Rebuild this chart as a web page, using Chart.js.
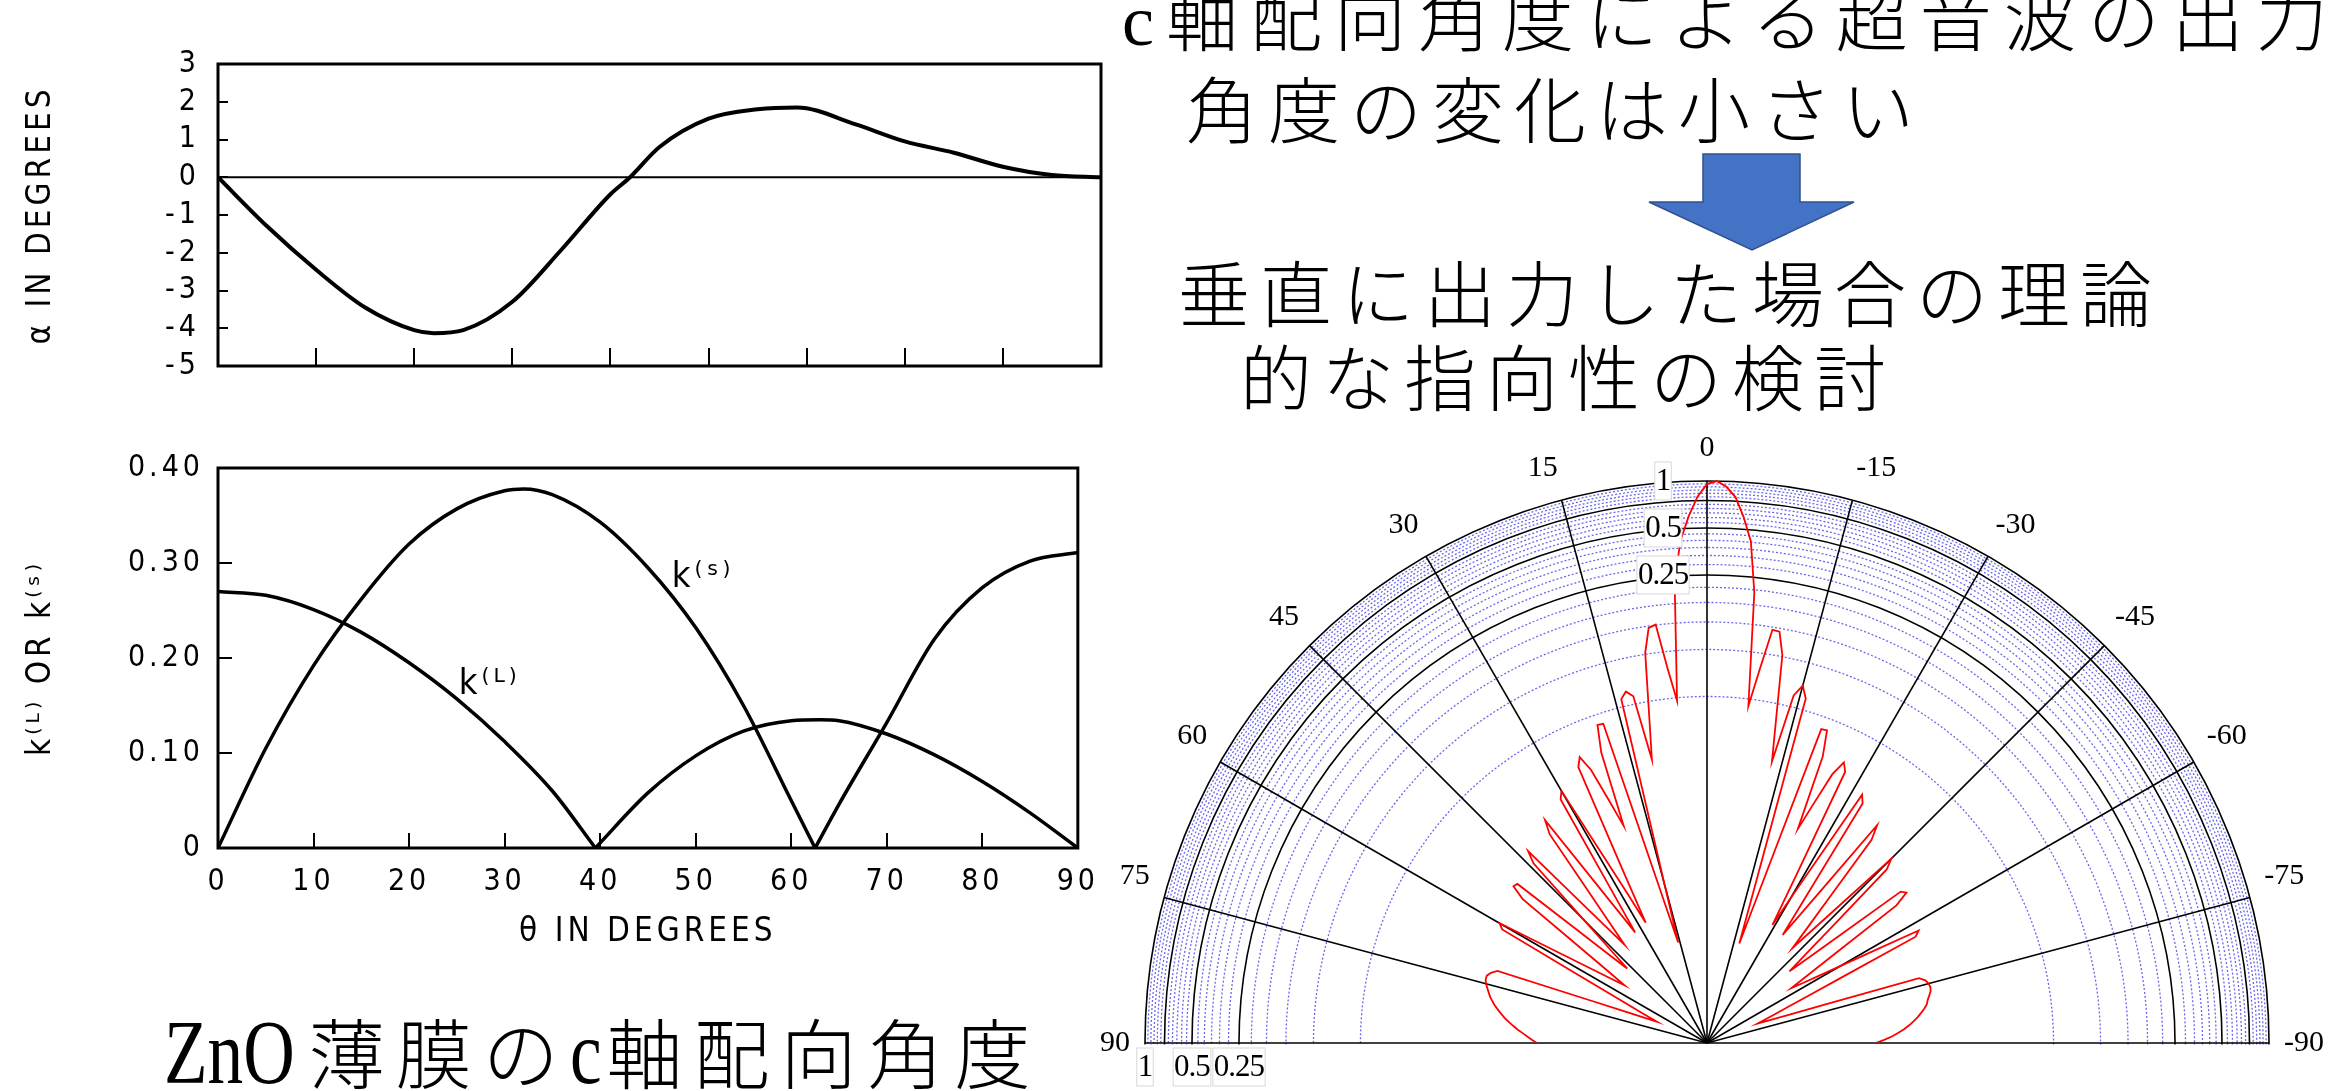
<!DOCTYPE html>
<html lang="ja">
<head>
<meta charset="utf-8">
<title>ZnO c軸配向角度</title>
<script src="https://cdn.jsdelivr.net/npm/chart.js@4.4.1/dist/chart.umd.min.js"></script>
<style>
html, body { margin: 0; padding: 0; background: #fff; }
body { width: 2344px; height: 1091px; overflow: hidden; position: relative; }
.box { position: absolute; }
.jp { position: absolute; font-family: 'Liberation Serif', 'Noto Sans CJK JP', serif; font-weight: 300; color: #000; white-space: nowrap; line-height: 1; }
.lat { display: inline-block; font-size: 92px; letter-spacing: 0; transform: scaleX(0.775); transform-origin: left bottom; }
</style>
</head>
<body>
<div class="box" style="left:0;top:0;width:1130px;height:420px"><canvas id="alphaChart"></canvas></div>
<div class="box" style="left:0;top:420px;width:1130px;height:534px"><canvas id="kChart"></canvas></div>
<div class="box" style="left:1095px;top:426px;width:1234px;height:1234px"><canvas id="polarChart"></canvas></div>

<div class="jp" style="left:1122px;top:-15px;font-size:72px;letter-spacing:12px">c軸配向角度による超音波の出力</div>
<div class="jp" style="left:1186px;top:77px;font-size:72px;letter-spacing:10px">角度の変化は小さい</div>
<svg class="box" style="left:0;top:0" width="2344" height="300">
  <polygon points="1703,154 1800,154 1800,202 1854,202 1752,250 1649,202 1703,202" fill="#4472C4" stroke="#2F528F" stroke-width="1.5"/>
</svg>
<div class="jp" style="left:1178px;top:261px;font-size:72px;letter-spacing:10px">垂直に出力した場合の理論</div>
<div class="jp" style="left:1240px;top:345px;font-size:72px;letter-spacing:10px">的な指向性の検討</div>
<div class="jp" style="left:164px;top:1002px;font-size:76px;line-height:100px;letter-spacing:11px"><span class="lat" style="margin-right:-24px">ZnO</span>薄膜の<span class="lat" style="margin-right:-4px">c</span>軸配向角度</div>

<script>
// ---- top: alpha vs theta ----
const thetaAlpha = [0, 5, 10, 15, 20, 22, 25, 30, 35, 40, 42, 45, 50, 55, 59, 65, 70, 75, 80, 85, 90];
const alphaDeg = [0, -1.3, -2.45, -3.45, -4.05, -4.13, -4.05, -3.3, -1.92, -0.45, 0, 0.8, 1.55, 1.8, 1.85, 1.4, 0.95, 0.65, 0.28, 0.06, 0];
const alphaZero = [{ x: 0, y: 0 }, { x: 90, y: 0 }];

// ---- bottom: coupling factors, each arch between zeros ----
const thetaKL1 = [0, 5, 10, 15, 20, 25, 30, 35, 39.5];
const kL1 = [0.270, 0.266, 0.251, 0.227, 0.195, 0.157, 0.112, 0.060, 0];
const thetaKL2 = [39.5, 45, 50, 55, 60, 63, 65, 70, 75, 80, 85, 90];
const kL2 = [0, 0.058, 0.097, 0.123, 0.134, 0.135, 0.134, 0.120, 0.098, 0.070, 0.037, 0];
const thetaKS1 = [0, 5, 10, 15, 20, 25, 30, 32, 35, 40, 45, 50, 55, 60, 62.5];
const kS1 = [0, 0.105, 0.192, 0.262, 0.320, 0.357, 0.376, 0.378, 0.372, 0.343, 0.295, 0.232, 0.150, 0.050, 0];
const thetaKS2 = [62.5, 65, 70, 75, 80, 85, 90];
const kS2 = [0, 0.046, 0.132, 0.220, 0.274, 0.302, 0.311];
const kLabels = [
  { text: 'k⁽ˢ⁾', x: 47.5, y: 0.285 },
  { text: 'k⁽ᴸ⁾', x: 25.2, y: 0.172 }
];

// ---- right: theoretical directivity (dB), 1 degree steps ----
// rightLevelsDb: 0, -1, ... -90 deg ; leftLevelsDb: +1, +2, ... +90 deg
const rightLevelsDb = [
  -0.4, 0, -0.7, -2.0, -4.5, -7.5, -14.0, -28.5, -23.8, -18.4,
  -18.5, -21.4, -29.3, -35.0, -26.1, -24.6, -26.1, -51.2, -58.6, -51.4,
  -29.2, -29.1, -32.4, -42.2, -38.5, -34.0, -32.0, -33.0, -47.6, -54.7,
  -50.5, -44.6, -34.5, -35.4, -48.9, -55.1, -51.5, -46.1, -36.6, -38.5,
  -47.2, -52.2, -55.6, -52.2, -47.2, -38.6, -40.0, -49.6, -54.8, -58.0,
  -54.9, -49.8, -40.5, -40.0, -42.0, -51.3, -56.2, -59.1, -57.5, -55.3,
  -52.3, -48.0, -41.3, -42.0, -52.6, -57.6, -60.6, -62.5, -63.9, -65.0,
  -63.3, -60.7, -55.8, -43.6, -42.9, -42.6, -42.5, -42.6, -42.9, -43.2,
  -43.4, -43.8, -44.3, -44.8, -45.4, -46.0, -46.7, -47.5, -48.3, -49.3,
  -50.4
];
const leftLevelsDb = [
  -2.0, -4.5, -7.5, -12.5, -28.0, -23.8, -18.0, -18.3, -21.4, -29.3,
  -35.0, -26.6, -25.8, -26.6, -51.2, -58.6, -51.4, -29.0, -28.9, -32.4,
  -42.2, -38.5, -34.0, -31.9, -33.0, -47.6, -54.7, -50.5, -44.6, -34.7,
  -35.6, -48.9, -55.1, -51.5, -46.1, -36.7, -38.5, -47.2, -52.2, -55.6,
  -52.2, -47.2, -38.4, -40.0, -49.6, -54.8, -58.0, -54.9, -49.8, -40.3,
  -40.1, -42.0, -51.3, -56.2, -59.1, -57.5, -55.3, -52.3, -48.0, -41.3,
  -42.0, -52.6, -57.6, -60.6, -62.5, -63.9, -65.0, -63.3, -60.7, -55.8,
  -43.6, -42.9, -42.5, -42.5, -42.7, -43.0, -43.3, -43.6, -44.0, -44.4,
  -44.9, -45.4, -45.9, -46.5, -47.1, -47.7, -48.4, -49.0, -49.6, -50.2
];
const angleTickLabels = [90, 75, 60, 45, 30, 15, 0, -15, -30, -45, -60, -75, -90];
const majorRings = [1, 0.75, 0.5, 0.25];
const labelledRings = [1, 0.5, 0.25];
const ringCount = 24;
const dbMin = -72;

Chart.defaults.font.family = "'DejaVu Sans Condensed', 'DejaVu Sans', sans-serif";
Chart.defaults.color = '#000';

// wide-set lettering of the scanned figure
const spacingPlugin = {
  id: 'spacing',
  beforeLayout(chart) { chart.ctx.letterSpacing = '4px'; },
  beforeDraw(chart) { chart.ctx.letterSpacing = '4px'; }
};

const framePlugin = {
  id: 'frame',
  afterDatasetsDraw(chart) {
    const { left, top, right, bottom } = chart.chartArea;
    const ctx = chart.ctx;
    ctx.save();
    ctx.strokeStyle = '#000';
    ctx.lineWidth = 3;
    ctx.strokeRect(left, top, right - left, bottom - top);
    ctx.restore();
  }
};

function toPoints(xs, ys) {
  return xs.map((x, i) => ({ x: x, y: ys[i] }));
}

function curve(points, width) {
  return {
    data: points,
    borderColor: '#000',
    borderWidth: width,
    pointRadius: 0,
    cubicInterpolationMode: 'monotone',
    fill: false
  };
}

// top chart
new Chart(document.getElementById('alphaChart'), {
  type: 'line',
  data: {
    datasets: [
      curve(toPoints(thetaAlpha, alphaDeg), 4),
      curve(alphaZero, 2)
    ]
  },
  options: {
    animation: false,
    responsive: true,
    maintainAspectRatio: false,
    layout: { padding: { top: 64, right: 29, left: 0, bottom: 0 } },
    plugins: { legend: { display: false }, tooltip: { enabled: false } },
    scales: {
      x: {
        type: 'linear', min: 0, max: 90,
        ticks: { stepSize: 10, display: false, autoSkip: false },
        grid: { drawOnChartArea: false, tickLength: -18, color: '#000', lineWidth: 2 },
        border: { display: false },
        afterFit: (axis) => { axis.height = 54; }
      },
      y: {
        min: -5, max: 3,
        ticks: { stepSize: 1, padding: 28, autoSkip: false, font: { size: 30 } },
        grid: { drawOnChartArea: false, tickLength: -10, color: '#000', lineWidth: 2 },
        border: { display: false },
        title: { display: true, text: 'α IN DEGREES', font: { size: 33 }, padding: { top: 22, bottom: 0 } },
        afterFit: (axis) => { axis.width = 218; }
      }
    }
  },
  plugins: [spacingPlugin, framePlugin]
});

// bottom chart
const kLabelPlugin = {
  id: 'kLabels',
  afterDatasetsDraw(chart) {
    const ctx = chart.ctx;
    const xs = chart.scales.x, ys = chart.scales.y;
    ctx.save();
    ctx.font = "36px 'DejaVu Sans Condensed'";
    ctx.fillStyle = '#000';
    ctx.textBaseline = 'middle';
    kLabels.forEach(l => ctx.fillText(l.text, xs.getPixelForValue(l.x), ys.getPixelForValue(l.y)));
    ctx.restore();
  }
};

new Chart(document.getElementById('kChart'), {
  type: 'line',
  data: {
    datasets: [
      curve(toPoints(thetaKL1, kL1), 3.5),
      curve(toPoints(thetaKL2, kL2), 3.5),
      curve(toPoints(thetaKS1, kS1), 3.5),
      curve(toPoints(thetaKS2, kS2), 3.5)
    ]
  },
  options: {
    animation: false,
    responsive: true,
    maintainAspectRatio: false,
    layout: { padding: { top: 48, right: 30, left: 0, bottom: 0 } },
    plugins: { legend: { display: false }, tooltip: { enabled: false } },
    scales: {
      x: {
        type: 'linear', min: 0, max: 90,
        ticks: { stepSize: 10, padding: 31, autoSkip: false, font: { size: 30 } },
        grid: { drawOnChartArea: false, tickLength: -15, color: '#000', lineWidth: 2 },
        border: { display: false },
        title: { display: true, text: 'θ IN DEGREES', font: { size: 33 }, padding: { top: 4, bottom: 2 } },
        afterFit: (axis) => { axis.height = 106; }
      },
      y: {
        min: 0, max: 0.4,
        ticks: { stepSize: 0.1, padding: 28, autoSkip: false, font: { size: 30 }, callback: (v) => v === 0 ? '0' : v.toFixed(2) },
        grid: { drawOnChartArea: false, tickLength: -14, color: '#000', lineWidth: 2 },
        border: { display: false },
        title: { display: true, text: 'k⁽ᴸ⁾ OR k⁽ˢ⁾', font: { size: 33 }, padding: { top: 22, bottom: 0 } },
        afterFit: (axis) => { axis.width = 218; }
      }
    }
  },
  plugins: [spacingPlugin, framePlugin, kLabelPlugin]
});

// polar (radar) chart, label index = degrees clockwise from the top
const nAngles = 360;
const angleCategories = Array.from({ length: nAngles }, (_, i) => (i <= 180 ? -i : nAngles - i));
const polarData = new Array(nAngles).fill(null);
rightLevelsDb.forEach((v, i) => { polarData[i] = v; });
leftLevelsDb.forEach((v, i) => { polarData[nAngles - 1 - i] = v; });

const ringAmps = Array.from({ length: ringCount }, (_, k) => (k + 1) / ringCount);
const toDb = (a) => 20 * Math.log10(a);
const isMajor = (db) => majorRings.some(a => Math.abs(toDb(a) - db) < 1e-6);

function drawBoxLabel(ctx, text, x, y) {
  const w = ctx.measureText(text).width;
  ctx.fillStyle = '#fff';
  ctx.fillRect(x - w / 2 - 1, y - 19, w + 2, 38);
  ctx.strokeStyle = '#d8d8d8';
  ctx.lineWidth = 1;
  ctx.strokeRect(x - w / 2 - 1, y - 19, w + 2, 38);
  ctx.fillStyle = '#000';
  ctx.fillText(text, x, y + 1);
}

const halfPlanePlugin = {
  id: 'halfPlane',
  beforeDraw(chart) {
    const s = chart.scales.r;
    const ctx = chart.ctx;
    ctx.save();
    ctx.beginPath();
    ctx.rect(0, 0, chart.width, s.yCenter + 1.5);
    ctx.rect(0, 0, s.xCenter - s.drawingArea - 3, chart.height);
    ctx.rect(s.xCenter + s.drawingArea + 3, 0, chart.width, chart.height);
    ctx.clip();
  },
  beforeDatasetsDraw(chart) {
    const s = chart.scales.r;
    const ctx = chart.ctx;
    ctx.restore();
    ctx.save();
    ctx.beginPath();
    ctx.rect(0, 0, chart.width, s.yCenter - 0.5);
    ctx.clip();
  },
  afterDatasetsDraw(chart) {
    chart.ctx.restore();
  },
  afterDraw(chart) {
    const s = chart.scales.r;
    const ctx = chart.ctx;
    ctx.save();
    ctx.font = "31px 'Liberation Serif'";
    ctx.letterSpacing = '-1px';
    ctx.textAlign = 'center';
    ctx.textBaseline = 'middle';
    labelledRings.forEach(a => {
      const d = s.getDistanceFromCenterForValue(toDb(a));
      drawBoxLabel(ctx, String(a), s.xCenter - 44, s.yCenter - d);
      drawBoxLabel(ctx, String(a), s.xCenter - d, s.yCenter + 24);
    });
    ctx.restore();
  }
};

new Chart(document.getElementById('polarChart'), {
  type: 'radar',
  data: {
    labels: angleCategories,
    datasets: [{
      data: polarData,
      borderColor: '#ff0000',
      borderWidth: 1.8,
      pointRadius: 0,
      pointHitRadius: 0,
      fill: false,
      spanGaps: false,
      tension: 0
    }]
  },
  options: {
    animation: false,
    responsive: true,
    maintainAspectRatio: false,
    plugins: { legend: { display: false }, tooltip: { enabled: false } },
    scales: {
      r: {
        min: dbMin,
        max: 0,
        startAngle: 0,
        afterBuildTicks: (scale) => { scale.ticks = ringAmps.map(a => ({ value: toDb(a) })); },
        ticks: { display: false },
        grid: {
          circular: true,
          color: (ctx) => isMajor(ctx.tick.value) ? '#000' : 'rgb(105,105,235)',
          lineWidth: (ctx) => isMajor(ctx.tick.value) ? 1.6 : 1.3
        },
        border: { dash: (ctx) => isMajor(ctx.tick.value) ? [] : [2, 2] },
        angleLines: {
          color: (ctx) => {
            const a = angleCategories[ctx.index];
            return (Math.abs(a) <= 90 && a % 15 === 0) ? '#000' : null;
          },
          lineWidth: 1.6
        },
        pointLabels: {
          display: true,
          callback: (label) => (angleTickLabels.includes(label) ? String(label) : ''),
          font: { family: 'Liberation Serif', size: 30 },
          color: '#000',
          padding: 15,
          backdropColor: (ctx) => (ctx.label ? '#fff' : null),
          backdropPadding: 2
        }
      }
    }
  },
  plugins: [halfPlanePlugin]
});
</script>
</body>
</html>
